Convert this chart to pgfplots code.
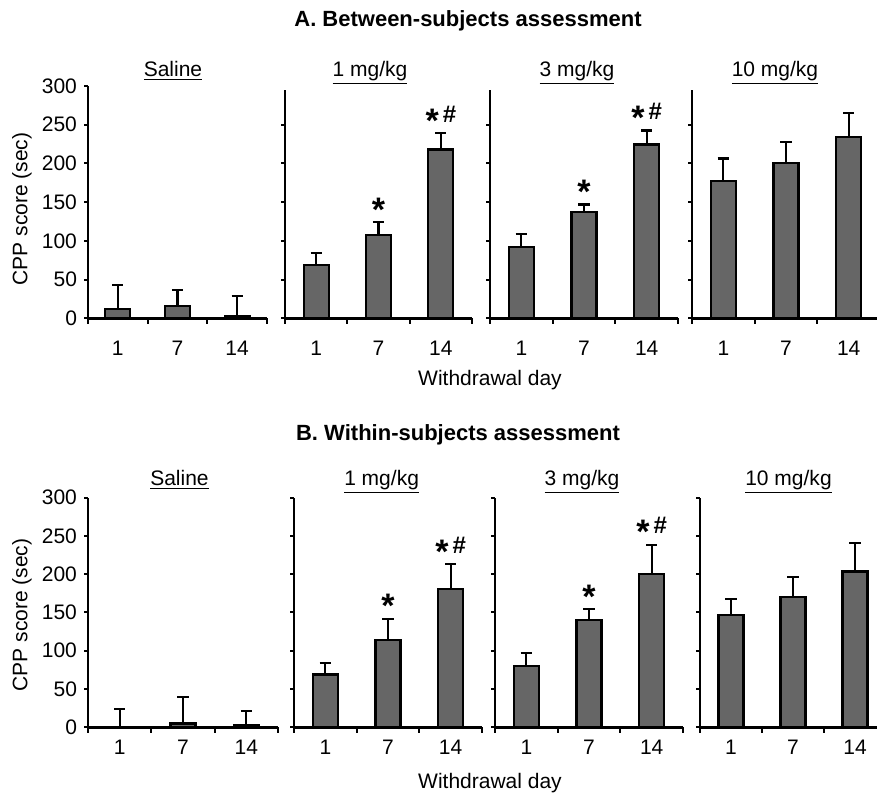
\documentclass[border=0pt]{standalone}
\usepackage{fontspec}
\setmainfont{Liberation Sans}
\usepackage{pgfplots}
\pgfplotsset{compat=1.18}
\definecolor{barfill}{HTML}{666666}

\newcommand{\bigstar}{\raisebox{-5pt}{\fontsize{17}{17}\selectfont\bfseries *}}
\newcommand{\sig}{\bigstar}
\newcommand{\sigh}{\bigstar\hspace{2pt}{\fontsize{12}{13}\selectfont\bfseries\#}}

\pgfplotsset{
  panel/.style={
    scale only axis, anchor=south west,
    axis x line=bottom, axis y line=left,
    axis line style={-, line width=1.3pt},
    xmin=-0.5, xmax=2.5, ymin=0,
    xtick={0,1,2}, xticklabels={1,7,14},
    minor xtick={-0.5,0.5,1.5,2.5},
    major x tick style={draw=none},
    minor tick length=2.8pt,
    major tick length=2pt,
    tick align=outside,
    every tick/.style={black, line width=1pt},
    ybar, bar width=12.5pt,
    clip=false,
    ticklabel style={font=\fontsize{10.5}{12}\selectfont},
    /pgf/number format/assume math mode=true,
  },
  toprow/.style={xticklabel style={yshift=-6pt}},
  botrow/.style={xticklabel style={yshift=-1pt}},
  nolab/.style={yticklabels={}},
  bars/.style={fill=barfill, draw=black, line width=1.1pt,
    error bars/.cd, y dir=plus, y explicit, error mark=|,
    error bar style={line width=1.1pt, black},
    error mark options={line width=1.1pt, mark size=2.8pt, black}},
}

\begin{document}
\begin{tikzpicture}
\path[use as bounding box] (0,0) rectangle (438.5pt,397pt);

% ---------- A. Between-subjects ----------
\begin{axis}[panel, toprow, at={(44pt,237.85pt)}, width=89.5pt, height=116.15pt,
  ymax=300, ytick={0,50,...,300}]
\addplot[bars] coordinates {(0,12.5) +- (0,31) (1,16) +- (0,21) (2,3) +- (0,26)};
\end{axis}

\begin{axis}[panel, toprow, nolab, at={(142.5pt,237.85pt)}, width=93.5pt, height=114.2pt,
  ymax=295, ytick={0,50,...,250}]
\addplot[bars] coordinates {(0,69) +- (0,15) (1,107.5) +- (0,16.5) (2,218) +- (0,21)};
\node[anchor=base, yshift=5.5pt] at (axis cs:1,124) {\sig};
\node[anchor=base, yshift=5.5pt] at (axis cs:2,239) {\sigh};
\end{axis}

\begin{axis}[panel, toprow, nolab, at={(245pt,237.85pt)}, width=94pt, height=114.2pt,
  ymax=295, ytick={0,50,...,250}]
\addplot[bars] coordinates {(0,92.5) +- (0,16.5) (1,137.5) +- (0,9.5) (2,224.5) +- (0,18)};
\node[anchor=base, yshift=5.5pt] at (axis cs:1,147) {\sig};
\node[anchor=base, yshift=5.5pt] at (axis cs:2,242.5) {\sigh};
\end{axis}

\begin{axis}[panel, toprow, nolab, at={(346pt,237.85pt)}, width=94pt, height=114.2pt,
  ymax=295, ytick={0,50,...,250}]
\addplot[bars] coordinates {(0,177) +- (0,29.5) (1,200.5) +- (0,27) (2,234.5) +- (0,31)};
\end{axis}

% ---------- B. Within-subjects ----------
\begin{axis}[panel, botrow, at={(44pt,33.35pt)}, width=95pt, height=114.85pt,
  ymax=300, ytick={0,50,...,300}]
\addplot[bars] coordinates {(0,0.5) +- (0,23) (1,5) +- (0,35) (2,3) +- (0,18)};
\end{axis}

\begin{axis}[panel, botrow, nolab, at={(147pt,33.35pt)}, width=94pt, height=114.85pt,
  ymax=300, ytick={0,50,...,300}]
\addplot[bars] coordinates {(0,69) +- (0,15.5) (1,114.5) +- (0,27) (2,181) +- (0,32)};
\node[anchor=base, yshift=5.5pt] at (axis cs:1,141.5) {\sig};
\node[anchor=base, yshift=5.5pt] at (axis cs:2,213) {\sigh};
\end{axis}

\begin{axis}[panel, botrow, nolab, at={(247.5pt,33.35pt)}, width=94pt, height=114.85pt,
  ymax=300, ytick={0,50,...,300}]
\addplot[bars] coordinates {(0,80) +- (0,17) (1,140) +- (0,14) (2,200.5) +- (0,38)};
\node[anchor=base, yshift=5.5pt] at (axis cs:1,154) {\sig};
\node[anchor=base, yshift=5.5pt] at (axis cs:2,238.5) {\sigh};
\end{axis}

\begin{axis}[panel, botrow, nolab, at={(350pt,33.35pt)}, width=93pt, height=114.85pt,
  ymax=300, ytick={0,50,...,300}]
\addplot[bars] coordinates {(0,146.5) +- (0,21) (1,170.5) +- (0,25.5) (2,203.5) +- (0,37)};
\end{axis}

% ---------- texts ----------
\begin{scope}[every node/.style={font=\fontsize{10.5}{12}\selectfont}]
\node[anchor=base, font=\fontsize{11}{13}\selectfont\bfseries] at (234pt,383.5pt) {A. Between-subjects assessment};
\node[anchor=base, font=\fontsize{11}{13}\selectfont\bfseries] at (229pt,177pt) {B. Within-subjects assessment};

\node[anchor=base] at (86.5pt,358.65pt) {\underline{Saline}};
\node[anchor=base] at (185pt,358.65pt) {\underline{1 mg/kg}};
\node[anchor=base] at (288.5pt,358.65pt) {\underline{3 mg/kg}};
\node[anchor=base] at (387.5pt,358.65pt) {\underline{10 mg/kg}};

\node[anchor=base] at (89.75pt,154.5pt) {\underline{Saline}};
\node[anchor=base] at (190.8pt,154.5pt) {\underline{1 mg/kg}};
\node[anchor=base] at (291pt,154.5pt) {\underline{3 mg/kg}};
\node[anchor=base] at (394.25pt,154.5pt) {\underline{10 mg/kg}};

\node[anchor=base] at (245pt,204.5pt) {Withdrawal day};
\node[anchor=base] at (245pt,3pt) {Withdrawal day};

\node[rotate=90] at (11pt,292.5pt) {CPP score (sec)};
\node[rotate=90] at (11pt,89.5pt) {CPP score (sec)};
\end{scope}
\end{tikzpicture}
\end{document}
